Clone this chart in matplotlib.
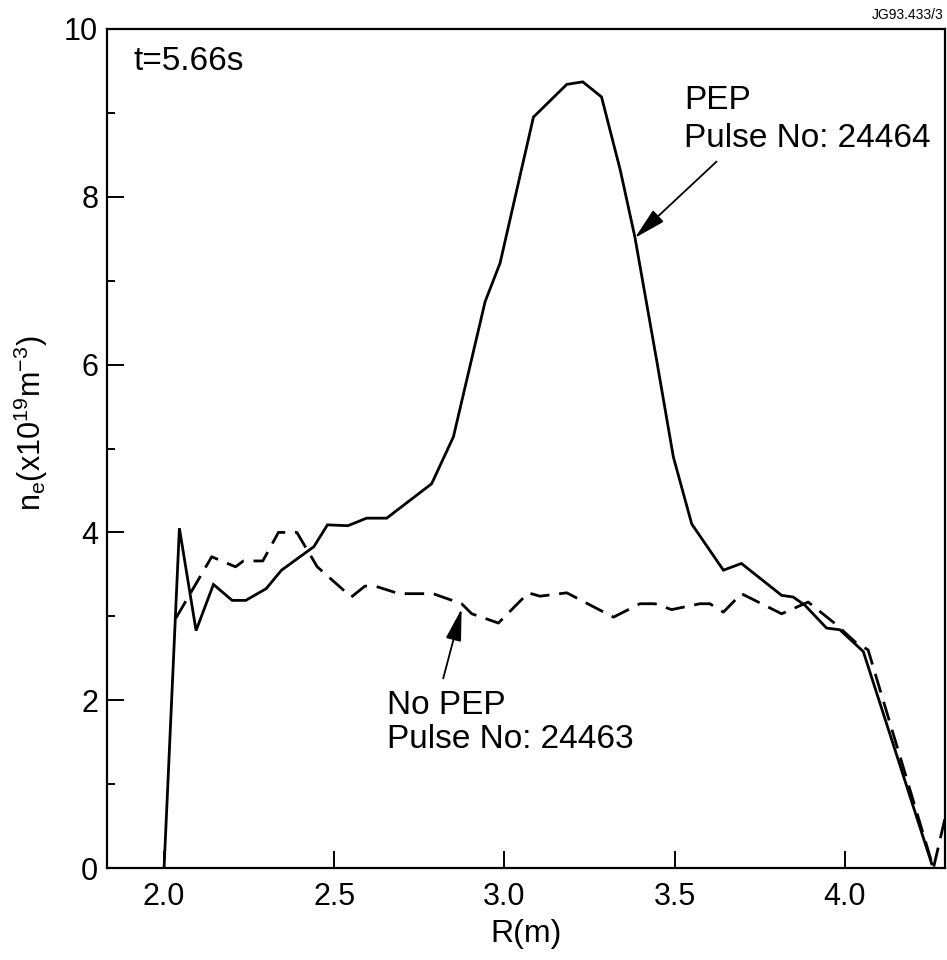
import matplotlib
matplotlib.use("Agg")
import matplotlib.pyplot as plt
from matplotlib.ticker import MultipleLocator, FormatStrFormatter

plt.rcParams["font.family"] = ["Liberation Sans", "DejaVu Sans"]
plt.rcParams["mathtext.fontset"] = "custom"
plt.rcParams["mathtext.rm"] = "Liberation Sans"
plt.rcParams["mathtext.it"] = "Liberation Sans"

# PEP, pulse 24464 (solid)
r_pep = [2.0, 2.045, 2.094, 2.145, 2.20, 2.24, 2.30, 2.345, 2.44, 2.48, 2.54,
         2.595, 2.654, 2.786, 2.85, 2.943, 2.987, 3.085, 3.183, 3.23, 3.285,
         3.34, 3.383, 3.447, 3.496, 3.55, 3.643, 3.696, 3.814, 3.848, 3.883,
         3.946, 3.985, 4.054, 4.255]
ne_pep = [0.0, 4.05, 2.83, 3.38, 3.19, 3.19, 3.33, 3.55, 3.83, 4.09, 4.08,
          4.17, 4.17, 4.58, 5.14, 6.75, 7.21, 8.95, 9.34, 9.37, 9.19,
          8.32, 7.52, 6.05, 4.90, 4.10, 3.55, 3.63, 3.25, 3.23, 3.13,
          2.86, 2.84, 2.58, 0.05]

# No PEP, pulse 24463 (dashed)
r_nopep = [2.035, 2.14, 2.21, 2.233, 2.29, 2.336, 2.39, 2.45, 2.55, 2.59,
           2.62, 2.69, 2.79, 2.874, 2.904, 2.982, 3.07, 3.104, 3.183, 3.32,
           3.398, 3.442, 3.491, 3.574, 3.603, 3.643, 3.696, 3.814, 3.892,
           3.975, 4.034, 4.068, 4.26, 4.30]
ne_nopep = [2.98, 3.71, 3.59, 3.66, 3.66, 4.0, 4.0, 3.59, 3.23, 3.36,
            3.36, 3.27, 3.27, 3.15, 3.03, 2.92, 3.28, 3.24, 3.28, 2.99,
            3.15, 3.15, 3.08, 3.15, 3.15, 3.05, 3.27, 3.03, 3.17,
            2.90, 2.68, 2.60, 0.0, 0.7]

x_ticks = [2.0, 2.5, 3.0, 3.5, 4.0]
y_ticks = [0, 2, 4, 6, 8, 10]

fig = plt.figure(figsize=(9.47, 9.6), dpi=100)
ax = fig.add_axes([0.1125, 0.0958, 0.8854, 0.874])

ax.plot(r_pep, ne_pep, color="black", lw=2.0, solid_joinstyle="miter")
ax.plot(r_nopep, ne_nopep, color="black", lw=2.0, linestyle=(0, (7, 3.5)))

ax.set_xlim(1.831, 4.294)
ax.set_ylim(0, 10)
ax.set_xticks(x_ticks)
ax.xaxis.set_major_formatter(FormatStrFormatter("%.1f"))
ax.set_yticks(y_ticks)
ax.yaxis.set_minor_locator(MultipleLocator(1))

ax.tick_params(axis="both", which="both", direction="in", labelsize=22,
               width=1.4, top=False, right=False)
ax.tick_params(axis="both", which="major", length=12)
ax.tick_params(axis="y", which="minor", length=6)
ax.tick_params(axis="x", which="major", pad=10)
ax.tick_params(axis="y", which="major", pad=6)
for s in ax.spines.values():
    s.set_linewidth(1.6)

ax.set_xlabel("R(m)", fontsize=23, labelpad=5)
ax.set_ylabel(r"$\mathregular{n_e(x10^{19}m^{-3})}$", fontsize=22, labelpad=4)
ax.yaxis.set_label_coords(-0.068, 0.53)

ax.text(0.032, 0.961, "t=5.66s", transform=ax.transAxes, fontsize=24,
        ha="left", va="center")

arrow = dict(arrowstyle="-|>,head_length=0.9,head_width=0.22", color="black",
             lw=1.3, shrinkA=0, shrinkB=0, mutation_scale=22)
ax.annotate("", xy=(3.383, 7.51), xytext=(3.623, 8.42), arrowprops=arrow)
ax.text(3.527, 9.15, "PEP", fontsize=24, ha="left", va="center")
ax.text(3.527, 8.70, "Pulse No: 24464", fontsize=24, ha="left", va="center")

ax.annotate("", xy=(2.874, 3.09), xytext=(2.820, 2.26), arrowprops=arrow)
ax.text(2.655, 1.94, "No PEP", fontsize=24, ha="left", va="center")
ax.text(2.655, 1.53, "Pulse No: 24463", fontsize=24, ha="left", va="center")

fig.text(0.996, 0.984, "JG93.433/3", fontsize=10, ha="right", va="center")

fig.savefig("out.png", dpi=100)
